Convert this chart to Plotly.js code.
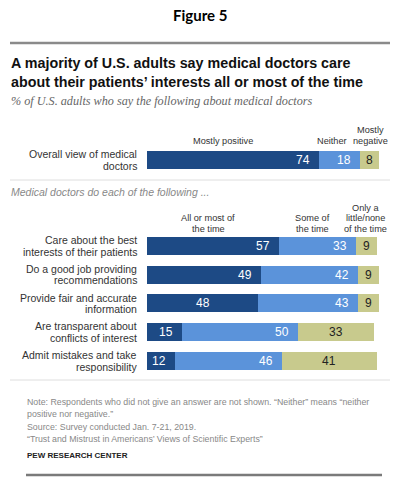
<!DOCTYPE html>
<html><head><meta charset="utf-8">
<script src="https://cdn.plot.ly/plotly-3.0.1.min.js"></script>
<style>html,body{margin:0;padding:0;background:#fff}#chart{width:399px;height:485px}</style>
</head><body><div id="chart"></div>
<script>
// ---- data ----
const overallCategory = ["Overall view of medical doctors"];
const overallLabelLines = [["Overall view of medical", "doctors"]];
const overallPositive = [74];
const overallNeither = [18];
const overallNegative = [8];
const overallHeaders = [["Mostly positive"], ["Neither"], ["Mostly", "negative"]];

const categories = [
  "Care about the best interests of their patients",
  "Do a good job providing recommendations",
  "Provide fair and accurate information",
  "Are transparent about conflicts of interest",
  "Admit mistakes and take responsibility"
];
const categoryLines = [
  ["Care about the best", "interests of their patients"],
  ["Do a good job providing", "recommendations"],
  ["Provide fair and accurate", "information"],
  ["Are transparent about", "conflicts of interest"],
  ["Admit mistakes and take", "responsibility"]
];
const allOrMost = [57, 49, 48, 15, 12];
const someOfTime = [33, 42, 43, 50, 46];
const littleNone = [9, 9, 9, 33, 41];
const rowHeaders = [["All or most of", "the time"], ["Some of", "the time"], ["Only a", "little/none", "of the time"]];

const figureLabel = "Figure 5";
const titleLines = ["A majority of U.S. adults say medical doctors care", "about their patients\u2019 interests all or most of the time"];
const subtitle = "% of U.S. adults who say the following about medical doctors";
const sectionNote = "Medical doctors do each of the following ...";
const noteLines = [
  "Note: Respondents who did not give an answer are not shown. \u201cNeither\u201d means \u201cneither",
  "positive nor negative.\u201d",
  "Source: Survey conducted Jan. 7-21, 2019.",
  "\u201cTrust and Mistrust in Americans\u2019 Views of Scientific Experts\u201d"
];
const sourceName = "PEW RESEARCH CENTER";

// ---- styles ----
const W = 399, H = 485;
const px = x => x / W;
const py = y => 1 - y / H;
const C_DARK = "#1d4a85", C_MID = "#5b93da", C_LIGHT = "#c8ca8d";
const SANS = "Liberation Sans, Arial, sans-serif";
const darkCentered = [false, false, true, false, false];

function barTrace(x, y, color, xa, ya) {
  return {type: "bar", orientation: "h", x: x, y: y, xaxis: xa, yaxis: ya,
    marker: {color: color, line: {width: 0}}, hoverinfo: "skip", textposition: "none"};
}

const traces = [
  barTrace(overallPositive, overallCategory, C_DARK, "x", "y"),
  barTrace(overallNeither, overallCategory, C_MID, "x", "y"),
  barTrace(overallNegative, overallCategory, C_LIGHT, "x", "y"),
  barTrace(allOrMost, categories, C_DARK, "x2", "y2"),
  barTrace(someOfTime, categories, C_MID, "x2", "y2"),
  barTrace(littleNone, categories, C_LIGHT, "x2", "y2")
];

const ann = [];
function txt(t, x, y, o) {
  ann.push(Object.assign({text: t, x: px(x), y: py(y), xref: "paper", yref: "paper",
    showarrow: false, xanchor: "left", yanchor: "middle",
    font: {family: SANS, size: 10, color: "#333"}}, o || {}));
}

// header texts
txt(figureLabel, 200, 15, {xanchor: "center", font: {family: "Lato, Open Sans, sans-serif", size: 15, color: "#000", weight: 700}});
txt(titleLines[0], 9, 63, {font: {family: SANS, size: 14.3, color: "#111", weight: 700}});
txt(titleLines[1], 9, 82, {font: {family: SANS, size: 14.3, color: "#111", weight: 700}});
txt(subtitle, 9, 101, {font: {family: "Liberation Serif, serif", size: 12.2, color: "#666", style: "italic"}});
txt(sectionNote, 9, 192, {font: {family: SANS, size: 10.5, color: "#888", style: "italic"}});
noteLines.forEach((t, i) => txt(t, 25, 402 + i * 12.4, {font: {family: SANS, size: 8.8, color: "#888"}}));
txt(sourceName, 25, 455, {font: {family: SANS, size: 8, color: "#222", weight: 700}});

// column headers
const HEAD_FONT = {family: SANS, size: 9.2, color: "#333"};
const ovHeadX = [223, 332, 370];
overallHeaders.forEach((lines, i) => {
  lines.forEach((l, j) => txt(l, ovHeadX[i], 141 - (lines.length - 1 - j) * 10.5, {xanchor: "center", font: HEAD_FONT}));
});
const rowHeadX = [208, 312, 365];
rowHeaders.forEach((lines, i) => {
  lines.forEach((l, j) => txt(l, rowHeadX[i], 229 - (lines.length - 1 - j) * 10.5, {xanchor: "center", font: HEAD_FONT}));
});

// category labels
function catLabels(cats, linesArr, ya) {
  cats.forEach((c, i) => {
    const lines = linesArr[i];
    lines.forEach((l, j) => {
      ann.push({text: l, x: px(139), y: c, xref: "paper", yref: ya, showarrow: false,
        xanchor: "right", yanchor: "middle", yshift: ((lines.length - 1) / 2 - j) * 11.5,
        font: {family: SANS, size: 10.5, color: "#333"}});
    });
  });
}
catLabels(overallCategory, overallLabelLines, "y");
catLabels(categories, categoryLines, "y2");

// value labels
function valueLabels(cats, a, b, c, xa, ya) {
  cats.forEach((cat, i) => {
    const base = {y: cat, xref: xa, yref: ya, showarrow: false, yanchor: "middle"};
    if (darkCentered[i] && a.length > 1) {
      ann.push(Object.assign({}, base, {text: String(a[i]), x: a[i] / 2, xanchor: "center", font: {family: SANS, size: 12, color: "#fff"}}));
    } else {
      ann.push(Object.assign({}, base, {text: String(a[i]), x: a[i], xanchor: "right", xshift: -7, font: {family: SANS, size: 12, color: "#fff"}}));
    }
    ann.push(Object.assign({}, base, {text: String(b[i]), x: a[i] + b[i], xanchor: "right", xshift: -7, font: {family: SANS, size: 12, color: "#fff"}}));
    ann.push(Object.assign({}, base, {text: String(c[i]), x: a[i] + b[i] + c[i] / 2, xanchor: "center", font: {family: SANS, size: 12, color: "#222"}}));
  });
}
valueLabels(overallCategory, overallPositive, overallNeither, overallNegative, "x", "y");
valueLabels(categories, allOrMost, someOfTime, littleNone, "x2", "y2");

const shapes = [
  {type: "line", xref: "paper", yref: "paper", x0: px(10), x1: px(390), y0: py(43), y1: py(43), line: {color: "#8a8a8a", width: 2.5}},
  {type: "line", xref: "paper", yref: "paper", x0: px(10), x1: px(390), y0: py(180), y1: py(180), line: {color: "#dedede", width: 1}},
  {type: "line", xref: "paper", yref: "paper", x0: px(10), x1: px(390), y0: py(380), y1: py(380), line: {color: "#dedede", width: 1}},
  {type: "line", xref: "paper", yref: "paper", x0: px(26), x1: px(382), y0: py(475), y1: py(475), line: {color: "#7a7a7a", width: 2.5}}
];

const pitch = 28.75;
const layout = {
  width: W, height: H, margin: {l: 0, r: 0, t: 0, b: 0},
  paper_bgcolor: "#fff", plot_bgcolor: "#fff", showlegend: false,
  barmode: "stack", bargap: 1 - 18 / pitch,
  xaxis: {domain: [px(147), px(379)], range: [0, 100], visible: false, anchor: "y", fixedrange: true},
  yaxis: {domain: [py(160 + pitch / 2), py(160 - pitch / 2)], visible: false, anchor: "x", fixedrange: true},
  xaxis2: {domain: [px(147), px(379)], range: [0, 100], visible: false, anchor: "y2", fixedrange: true},
  yaxis2: {domain: [py(361 + pitch / 2), py(246 - pitch / 2)], visible: false, anchor: "x2", autorange: "reversed",
    categoryorder: "array", categoryarray: categories, fixedrange: true},
  annotations: ann, shapes: shapes
};
Plotly.newPlot("chart", traces, layout, {displayModeBar: false, staticPlot: true});
</script></body></html>
